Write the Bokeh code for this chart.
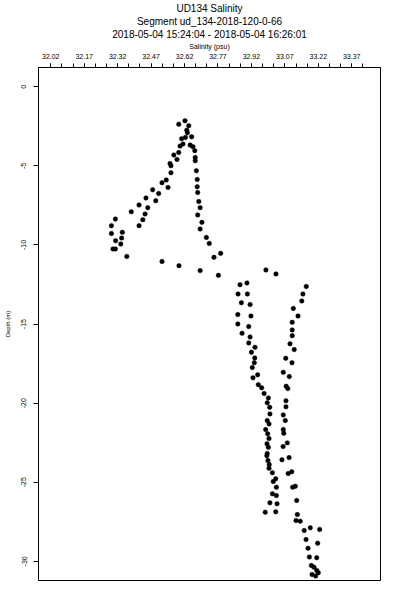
from bokeh.plotting import figure
from bokeh.models import FixedTicker, PrintfTickFormatter, ColumnDataSource, Title
from bokeh.embed import file_html
from bokeh.resources import INLINE

title_lines = [
    "UD134 Salinity",
    "Segment ud_134-2018-120-0-66",
    "2018-05-04 15:24:04 - 2018-05-04 16:26:01",
]
x_label = "Salinity (psu)"
y_label = "Depth (m)"

x_tick_labels = [32.02, 32.17, 32.32, 32.47, 32.62, 32.77, 32.92, 33.07, 33.22, 33.37]
x_tick_minor = [32.02, 32.07, 32.12, 32.17, 32.22, 32.27, 32.32, 32.37, 32.42, 32.47,
                32.52, 32.57, 32.62, 32.67, 32.72, 32.77, 32.82, 32.87, 32.92, 32.97,
                33.02, 33.07, 33.12, 33.17, 33.22, 33.27, 33.32, 33.37, 33.42]
y_ticks = [0, -5, -10, -15, -20, -25, -30]

salinity = [
    32.622, 32.594, 32.639, 32.630, 32.633, 32.607, 32.624, 32.652, 32.600, 32.613,
    32.645, 32.658, 32.594, 32.572, 32.666, 32.668, 32.668, 32.586, 32.555, 32.559,
    32.673, 32.559, 32.538, 32.519, 32.677, 32.677, 32.546, 32.477, 32.504, 32.679,
    32.447, 32.684, 32.491, 32.416, 32.455, 32.690, 32.381, 32.443, 32.310, 32.433,
    32.679, 32.698, 32.292, 32.416, 32.690, 32.341, 32.292, 32.338, 32.311, 32.718,
    32.334, 32.299, 32.310, 32.731, 32.361, 32.752, 32.782, 32.519, 32.595, 32.690,
    32.772, 32.985, 33.030, 32.869, 32.900, 33.166, 32.860, 32.902, 33.151, 33.146,
    32.875, 32.914, 33.108, 32.859, 32.918, 33.129, 33.103, 32.859, 32.908, 33.103,
    33.103, 32.878, 32.914, 32.908, 33.093, 32.936, 33.112, 32.920, 32.935, 33.074,
    32.933, 33.102, 32.924, 33.063, 32.948, 33.090, 32.927, 32.951, 32.966, 33.076,
    33.083, 32.977, 32.996, 32.991, 33.075, 33.002, 33.075, 33.003, 33.063, 32.991,
    32.999, 33.072, 32.984, 33.063, 32.993, 33.065, 32.999, 33.081, 32.990, 32.996,
    33.062, 32.991, 32.989, 33.089, 33.057, 32.994, 33.000, 32.999, 33.014, 33.085,
    33.101, 33.029, 33.018, 33.032, 33.105, 33.117, 33.014, 33.032, 33.123, 33.003,
    33.035, 32.982, 33.029, 33.126, 33.120, 33.139, 33.157, 33.184, 33.226, 33.165,
    33.217, 33.174, 33.180, 33.213, 33.189, 33.201, 33.213, 33.220, 33.192, 33.208,
]
depth = [
    -2.15, -2.36, -2.46, -2.74, -2.91, -3.28, -3.20, -3.16, -3.75, -3.62,
    -3.68, -3.79, -4.15, -4.31, -4.04, -4.47, -4.67, -4.59, -4.85, -4.99,
    -5.31, -5.43, -5.89, -6.06, -5.86, -6.32, -6.36, -6.51, -6.74, -6.68,
    -7.03, -7.25, -7.20, -7.47, -7.64, -7.64, -7.90, -8.04, -8.36, -8.40,
    -8.10, -8.57, -8.78, -8.78, -8.99, -9.20, -9.27, -9.56, -9.73, -9.52,
    -9.94, -10.25, -10.25, -9.90, -10.72, -10.78, -10.53, -11.04, -11.31, -11.62,
    -11.92, -11.58, -11.83, -12.51, -12.40, -12.62, -13.10, -13.10, -13.10, -13.54,
    -13.65, -13.77, -14.01, -14.40, -14.49, -14.49, -14.89, -14.99, -15.16, -15.37,
    -15.73, -15.58, -15.81, -16.19, -16.25, -16.47, -16.61, -16.78, -17.14, -17.16,
    -17.44, -17.45, -17.75, -18.05, -18.21, -18.32, -18.40, -18.83, -19.03, -18.93,
    -19.08, -19.39, -19.67, -19.98, -19.85, -20.26, -20.23, -20.68, -20.74, -21.10,
    -21.31, -21.10, -21.67, -21.67, -21.94, -21.90, -22.24, -22.51, -22.57, -22.79,
    -22.74, -23.18, -23.33, -23.44, -23.58, -23.63, -23.88, -24.11, -24.40, -24.45,
    -24.34, -24.78, -24.95, -25.31, -25.31, -25.25, -25.73, -25.84, -26.15, -26.30,
    -26.36, -26.89, -26.87, -27.04, -27.42, -27.46, -28.05, -27.88, -27.98, -28.62,
    -28.85, -29.17, -29.73, -29.77, -30.26, -30.37, -30.57, -30.72, -30.83, -30.93,
]

FONT = "Liberation Sans"

p = figure(
    width=392, height=592,
    x_range=(31.965, 33.499), y_range=(-31.21, 1.22),
    x_axis_location="above", title_location=None,
    output_backend="svg", toolbar_location=None,
    min_border_left=38, min_border_right=12,
    min_border_top=67, min_border_bottom=12,
)

# stacked outward from the frame: last line first
for line in reversed(title_lines):
    p.add_layout(Title(text=line, align="center", text_font=FONT,
                       text_font_size="10px", text_font_style="normal",
                       text_color="black", standoff=0, offset=0), "above")

p.xgrid.visible = False
p.ygrid.visible = False
p.outline_line_color = "black"
p.outline_line_width = 1
p.outline_line_alpha = 1.0
p.background_fill_color = "white"
p.border_fill_color = "white"

xa = p.xaxis[0]
xa.ticker = FixedTicker(ticks=x_tick_labels, minor_ticks=x_tick_minor)
xa.formatter = PrintfTickFormatter(format="%.2f")
xa.axis_label = x_label
xa.axis_label_text_font = FONT
xa.axis_label_text_font_size = "7px"
xa.axis_label_text_font_style = "normal"
xa.axis_label_text_color = "black"
xa.axis_label_standoff = 1
xa.major_label_text_font = FONT
xa.major_label_text_font_size = "7px"
xa.major_label_text_color = "black"
xa.major_label_standoff = 5
xa.major_tick_out = 4
xa.major_tick_in = 0
xa.minor_tick_out = 4
xa.minor_tick_in = 0
xa.axis_line_color = "black"
xa.major_tick_line_color = "black"
xa.minor_tick_line_color = "black"

ya = p.yaxis[0]
ya.ticker = FixedTicker(ticks=y_ticks)
ya.formatter = PrintfTickFormatter(format="%d")
ya.axis_label = y_label
ya.axis_label_text_font = FONT
ya.axis_label_text_font_size = "6px"
ya.axis_label_text_font_style = "normal"
ya.axis_label_text_color = "black"
ya.axis_label_standoff = 8
ya.major_label_text_font = FONT
ya.major_label_text_font_size = "7px"
ya.major_label_text_color = "black"
ya.major_label_orientation = "vertical"
ya.major_label_standoff = 7
ya.major_tick_out = 5
ya.major_tick_in = 0
ya.minor_tick_line_color = None
ya.axis_line_color = "black"
ya.major_tick_line_color = "black"

src = ColumnDataSource(data=dict(salinity=salinity, depth=depth))
p.scatter(x="salinity", y="depth", source=src, marker="circle", size=4.5,
          fill_color="black", line_color="black", line_width=0.5)

open("out.html", "w").write(file_html(p, INLINE))
